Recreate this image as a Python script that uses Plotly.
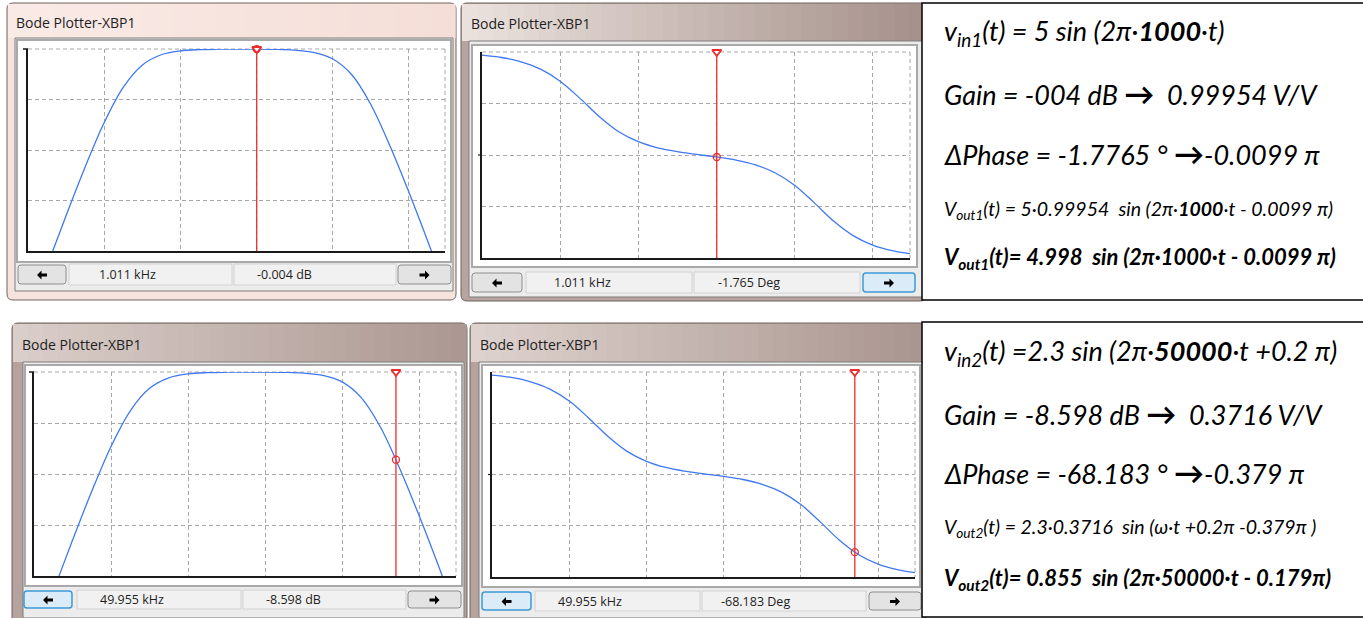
import plotly.graph_objects as go

W, H = 1363, 618

# Bode plotter readings (same band-pass circuit in both rows)
freq_hz = [1, 1.78, 3.16, 5.62, 10, 17.8, 31.6, 56.2, 100, 178, 316, 562, 1000,
           1780, 3160, 5620, 10000, 17800, 31600, 56200, 100000, 178000, 300000]
gain_db = [-26.5, -21.5, -16.5, -11.7, -7.3, -3.8, -1.6, -0.57, -0.19, -0.06, -0.02, -0.01, -0.013,
           -0.035, -0.11, -0.33, -0.97, -2.53, -5.44, -9.5, -14.1, -19.0, -23.6]
phase_deg = [87.3, 85.2, 81.4, 75.0, 64.5, 49.7, 33.6, 20.3, 11.6, 6.2, 2.9, 0.5, -1.7,
             -4.4, -8.6, -15.5, -26.4, -41.6, -57.7, -70.4, -78.7, -83.6, -86.2]

# cursor readouts shown under each plot
cursor_freq_hz = [1011, 49955]
cursor_gain_db = [-0.004, -8.598]
cursor_phase_deg = [-1.765, -68.183]

gain_range = [-20, 0]
phase_range = [-90, 90]
freq_range_log = [0, 5.478]
freq_grid = [10, 100, 1000, 10000, 100000]

window_title = "Bode Plotter-XBP1"

ARROW = '<b><span style="font-size:30px">→</span></b>'
box1_lines = [
    "<i>v<sub>in1</sub>(t) = 5 sin (2π·<b>1000</b>·t)</i>",
    f"<i>Gain = -004 dB </i>{ARROW}<i>  0.99954 V/V</i>",
    f"<i>ΔPhase = -1.7765 ° </i>{ARROW}<i>-0.0099 π</i>",
    "<i>V<sub>out1</sub>(t) = 5·0.99954\u00a0 sin (2π·<b>1000</b>·t - 0.0099 π)</i>",
    "<b><i>V<sub>out1</sub>(t)= 4.998\u00a0 sin (2π·1000·t - 0.0099 π)</i></b>",
]
box2_lines = [
    "<i>v<sub>in2</sub>(t) =2.3 sin (2π·<b>50000</b>·t +0.2 π)</i>",
    f"<i>Gain = -8.598 dB </i>{ARROW}<i>  0.3716 V/V</i>",
    f"<i>ΔPhase = -68.183 ° </i>{ARROW}<i>-0.379 π</i>",
    "<i>V<sub>out2</sub>(t) = 2.3·0.3716\u00a0 sin (ω·t +0.2π -0.379π )</i>",
    "<b><i>V<sub>out2</sub>(t)= 0.855\u00a0 sin (2π·50000·t - 0.179π)</i></b>",
]


def px(x):
    return x / W


def py(y):
    return 1 - y / H


shapes = []
annotations = []


def rect(x0, y0, x1, y1, fill, line="rgba(0,0,0,0)", width=1):
    shapes.append(dict(type="rect", xref="paper", yref="paper", layer="below",
                       x0=px(x0), x1=px(x1), y0=py(y1), y1=py(y0),
                       fillcolor=fill, line=dict(color=line, width=width)))


def poly(points, fill, line="rgba(0,0,0,0)", width=0):
    p = "M " + " L ".join(f"{px(x)},{py(y)}" for x, y in points) + " Z"
    shapes.append(dict(type="path", xref="paper", yref="paper", layer="below", path=p,
                       fillcolor=fill, line=dict(color=line, width=width)))


def rrect(x0, y0, x1, y1, r, fill, line, width=1):
    p = (f"M {px(x0)},{py(y0 + r)} Q {px(x0)},{py(y0)} {px(x0 + r)},{py(y0)} "
         f"L {px(x1 - r)},{py(y0)} Q {px(x1)},{py(y0)} {px(x1)},{py(y0 + r)} "
         f"L {px(x1)},{py(y1 - r)} Q {px(x1)},{py(y1)} {px(x1 - r)},{py(y1)} "
         f"L {px(x0 + r)},{py(y1)} Q {px(x0)},{py(y1)} {px(x0)},{py(y1 - r)} Z")
    shapes.append(dict(type="path", xref="paper", yref="paper", layer="below", path=p,
                       fillcolor=fill, line=dict(color=line, width=width)))


def hline(x0, x1, y, color, width=1, dash="solid"):
    shapes.append(dict(type="line", xref="paper", yref="paper", layer="below",
                       x0=px(x0), x1=px(x1), y0=py(y), y1=py(y),
                       line=dict(color=color, width=width, dash=dash)))


def vline(x, y0, y1, color, width=1, dash="solid"):
    shapes.append(dict(type="line", xref="paper", yref="paper", layer="below",
                       x0=px(x), x1=px(x), y0=py(y0), y1=py(y1),
                       line=dict(color=color, width=width, dash=dash)))


def hgrad(x0, y0, x1, y1, c0, c1, n=30):
    for i in range(n):
        t = i / (n - 1)
        c = tuple(round(c0[k] + (c1[k] - c0[k]) * t) for k in range(3))
        rect(x0 + (x1 - x0) * i / n, y0, x0 + (x1 - x0) * (i + 1) / n + 0.6, y1, f"rgb{c}")


def arrow_icon(cx, cy, direction):
    # thick black arrow like the Multisim buttons
    s = -1 if direction == "left" else 1
    pts = [(cx + 5 * s, cy), (cx + 0.5 * s, cy - 4.5), (cx + 0.5 * s, cy - 1.6),
           (cx - 5 * s, cy - 1.6), (cx - 5 * s, cy + 1.6), (cx + 0.5 * s, cy + 1.6),
           (cx + 0.5 * s, cy + 4.5)]
    poly(pts, "black")


def text(x, y, s, size, color="#1e1e1e", family="Open Sans", anchor="left"):
    annotations.append(dict(x=px(x), y=py(y), xref="paper", yref="paper", text=s,
                            showarrow=False, xanchor=anchor, yanchor="middle",
                            font=dict(size=size, color=color, family=family)))


windows = [
    dict(frame=(7, 3, 456, 300), base=(247, 227, 222), c0=(250, 234, 230), c1=(245, 222, 216),
         client=(15, 38, 453, 291), panel=(17, 40, 451, 262), axes=(28, 49, 445, 251),
         kind="gain", cur=0, btn_y=(265, 284), btns=[(18, 66), (69, 232), (234, 396), (398, 451)],
         hi=None, text_x=(97, 255), title_y=22, title_x=14),
    dict(frame=(461, 3, 926, 301), base=(184, 164, 158), c0=(234, 225, 221), c1=(166, 145, 139),
         client=(469, 41, 926, 297), panel=(472, 45, 917, 267), axes=(482, 52, 910, 258),
         kind="phase", cur=0, btn_y=(273, 292), btns=[(472, 522), (526, 692), (694, 860), (863, 915)],
         hi=3, text_x=(552, 716), title_y=23, title_x=469),
    dict(frame=(12, 323, 467, 624), base=(182, 162, 156), c0=(218, 206, 202), c1=(172, 152, 146),
         client=(23, 362, 464, 618), panel=(25, 365, 462, 586), axes=(34, 372, 456, 576),
         kind="gain", cur=1, btn_y=(591, 608), btns=[(24, 72), (77, 241), (243, 406), (408, 461)],
         hi=0, text_x=(98, 264), title_y=344, title_x=20),
    dict(frame=(470, 323, 926, 624), base=(182, 162, 156), c0=(222, 210, 206), c1=(170, 150, 144),
         client=(479, 362, 926, 618), panel=(482, 365, 920, 587), axes=(492, 372, 915, 577),
         kind="phase", cur=1, btn_y=(592, 610), btns=[(482, 531), (535, 700), (702, 866), (869, 921)],
         hi=0, text_x=(556, 719), title_y=344, title_x=478),
]

fig = go.Figure()
layout_axes = {}

for i, w in enumerate(windows):
    n = i + 1
    fx0, fy0, fx1, fy1 = w["frame"]
    cx0, cy0, cx1, cy1 = w["client"]
    ax0, ay0, ax1, ay1 = w["axes"]

    # window chrome
    rrect(fx0, fy0, fx1, fy1, 6, f"rgb{w['base']}", "#6f6360", 1)
    hgrad(fx0 + 1, fy0 + 1, fx1 - 1, cy0, w["c0"], w["c1"])
    rect(cx0, cy0, cx1, cy1, "#ececec", "#7d7d7d", 1)
    rect(*w["panel"], "white", "#a9a9a9", 2)
    text(w["title_x"], w["title_y"], window_title, 14)

    by0, by1 = w["btn_y"]
    for j, (bx0, bx1) in enumerate(w["btns"]):
        if j in (0, 3):
            if w["hi"] == j:
                rrect(bx0, by0, bx1, by1, 3, "#dcebf8", "#3d9ad6", 1.5)
            else:
                rrect(bx0, by0, bx1, by1, 3, "#e3e3e3", "#8e8e8e", 1)
            arrow_icon((bx0 + bx1) / 2, (by0 + by1) / 2 + 0.5, "left" if j == 0 else "right")
        else:
            rect(bx0, by0 - 1, bx1, by1 + 1, "#f1f1f1", "#d2d2d2", 1)

    # dashed top / right borders of the plotting area, small stubs on the left axis
    hline(ax0, ax1, ay0, "#a8a8a8", 1, "4px,3px")
    vline(ax1, ay0, ay1, "#a8a8a8", 1, "4px,3px")

    gain = w["kind"] == "gain"
    k = w["cur"]
    yr = gain_range if gain else phase_range
    if gain:
        hline(ax0 - 5, ax0, ay0, "#1a1a1a", 1.5)
    else:
        hline(ax0 - 4, ax0, (ay0 + ay1) / 2, "#1a1a1a", 1.2)

    layout_axes[f"xaxis{n}"] = dict(
        domain=[px(ax0), px(ax1)], anchor=f"y{n}", type="log", range=freq_range_log,
        tickvals=freq_grid, showticklabels=False, ticks="", showgrid=True,
        gridcolor="#a8a8a8", griddash="4px,3px", gridwidth=1, zeroline=False,
        showline=True, linecolor="#1a1a1a", linewidth=1.5, fixedrange=True)
    layout_axes[f"yaxis{n}"] = dict(
        domain=[py(ay1), py(ay0)], anchor=f"x{n}", range=yr,
        tickvals=[-15, -10, -5] if gain else [-45, 0, 45], showticklabels=False, ticks="",
        showgrid=True, gridcolor="#a8a8a8", griddash="4px,3px", gridwidth=1, zeroline=False,
        showline=True, linecolor="#1a1a1a", linewidth=1.5, fixedrange=True)

    fig.add_trace(go.Scatter(
        x=freq_hz, y=gain_db if gain else phase_deg, mode="lines",
        line=dict(color="#3f78f0", width=1.3, shape="spline"),
        xaxis=f"x{n}", yaxis=f"y{n}", showlegend=False, hoverinfo="skip"))

    cf = cursor_freq_hz[k]
    cv = cursor_gain_db[k] if gain else cursor_phase_deg[k]
    fig.add_trace(go.Scatter(
        x=[cf, cf], y=yr, mode="lines", line=dict(color="#ee2b2b", width=1.3),
        xaxis=f"x{n}", yaxis=f"y{n}", showlegend=False, hoverinfo="skip"))
    fig.add_trace(go.Scatter(
        x=[cf], y=[cv], mode="markers", cliponaxis=False,
        marker=dict(symbol="circle-open", size=7, color="#ee2b2b", line=dict(width=1.3)),
        xaxis=f"x{n}", yaxis=f"y{n}", showlegend=False, hoverinfo="skip"))
    fig.add_trace(go.Scatter(
        x=[cf], y=[yr[1]], mode="markers", cliponaxis=False,
        marker=dict(symbol="triangle-down", size=8, color="white",
                    line=dict(color="#ee2b2b", width=1.8)),
        xaxis=f"x{n}", yaxis=f"y{n}", showlegend=False, hoverinfo="skip"))

    unit = "dB" if gain else "Deg"
    text(w["text_x"][0], (by0 + by1) / 2, f"{cf / 1000:.3f} kHz", 12.5)
    text(w["text_x"][1], (by0 + by1) / 2, f"{cv:.3f} {unit}", 12.5)

# formula boxes on the right
rect(922, 3, 1375, 300, "white", "black", 1.5)
rect(922, 322, 1375, 617, "white", "black", 1.5)

line_y1 = [33, 93, 153, 210, 258]
line_y2 = [352, 413, 472, 528, 579]
sizes = [27, 27, 27, 19.5, 22]
for lines, ys in ((box1_lines, line_y1), (box2_lines, line_y2)):
    for s, y, fs in zip(lines, ys, sizes):
        text(942, y, s, fs, color="black", family="Lato")

fig.update_layout(
    width=W, height=H, margin=dict(l=0, r=0, t=0, b=0),
    paper_bgcolor="white", plot_bgcolor="rgba(0,0,0,0)",
    shapes=shapes, annotations=annotations, showlegend=False,
    **layout_axes)

fig.write_html("out.html", config={"displayModeBar": False},
               post_script="document.body.style.margin='0';")
